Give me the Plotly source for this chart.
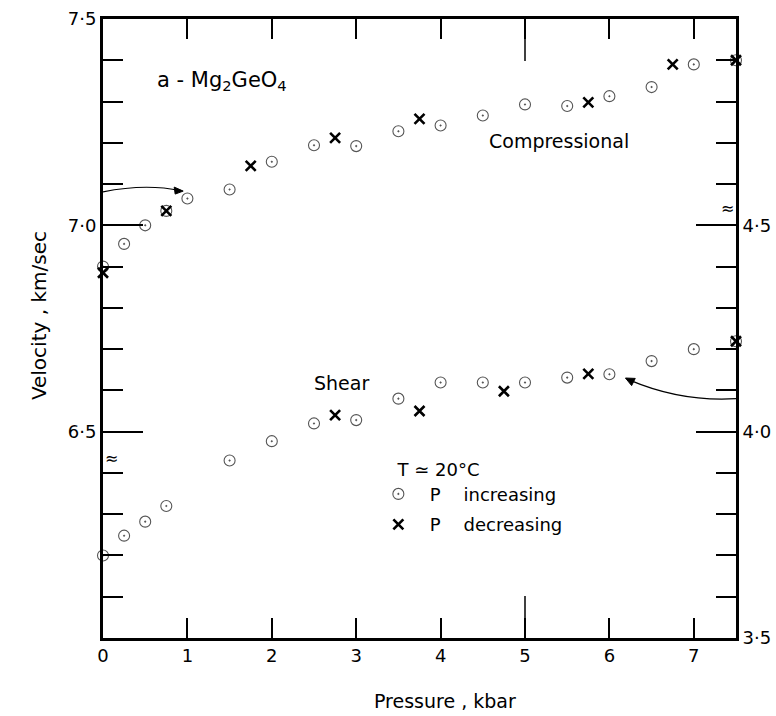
import plotly.graph_objects as go

# ---- data ----
# Compressional velocity (left axis, km/sec)
p_comp_inc = [0, 0.25, 0.5, 0.75, 1.0, 1.5, 2.0, 2.5, 3.0, 3.5, 4.0, 4.5, 5.0, 5.5, 6.0, 6.5, 7.0, 7.5]
v_comp_inc = [6.90, 6.955, 7.00, 7.035, 7.065, 7.087, 7.154, 7.194, 7.192, 7.228, 7.242, 7.266, 7.293, 7.289, 7.313, 7.335, 7.39, 7.40]
p_comp_dec = [0, 0.75, 1.75, 2.75, 3.75, 5.75, 6.75, 7.5]
v_comp_dec = [6.885, 7.035, 7.144, 7.212, 7.258, 7.298, 7.39, 7.40]

# Shear velocity (right axis, km/sec)
p_shear_inc = [0, 0.25, 0.5, 0.75, 1.5, 2.0, 2.5, 3.0, 3.5, 4.0, 4.5, 5.0, 5.5, 6.0, 6.5, 7.0, 7.5]
v_shear_inc = [3.70, 3.748, 3.782, 3.82, 3.93, 3.977, 4.02, 4.028, 4.08, 4.119, 4.119, 4.119, 4.131, 4.139, 4.171, 4.20, 4.219]
p_shear_dec = [2.75, 3.75, 4.75, 5.75, 7.5]
v_shear_dec = [4.04, 4.05, 4.098, 4.14, 4.219]

x_ticks = [0, 1, 2, 3, 4, 5, 6, 7]
x_ticktext = ["0", "1", "2", "3", "4", "5", "6", "7"]
yl_ticks = [6.5, 7.0, 7.5]
yl_ticktext = ["6·5", "7·0", "7·5"]
yr_ticks = [3.5, 4.0, 4.5]
yr_ticktext = ["3·5", "4·0", "4·5"]

FONT = "DejaVu Sans"
FS = 18
NB = "\u00a0"
circ = dict(symbol="circle-open-dot", size=11, color="#555", line=dict(width=1.1, color="#555"))
cross = dict(symbol="x-thin-open", size=10, color="black", line=dict(width=2.6, color="black"))

fig = go.Figure()
fig.add_trace(go.Scatter(x=p_comp_inc, y=v_comp_inc, mode="markers", marker=circ,
                         name=NB * 2 + "P" + NB * 4 + "increasing", legendgroup="inc", showlegend=True,
                         cliponaxis=False))
fig.add_trace(go.Scatter(x=p_comp_dec, y=v_comp_dec, mode="markers", marker=cross,
                         name=NB * 2 + "P" + NB * 4 + "decreasing", legendgroup="dec", showlegend=True,
                         cliponaxis=False))
fig.add_trace(go.Scatter(x=p_shear_inc, y=v_shear_inc, mode="markers", marker=circ, yaxis="y2",
                         legendgroup="inc", showlegend=False, cliponaxis=False))
fig.add_trace(go.Scatter(x=p_shear_dec, y=v_shear_dec, mode="markers", marker=cross, yaxis="y2",
                         legendgroup="dec", showlegend=False, cliponaxis=False))

fig.update_layout(
    width=776, height=716,
    margin=dict(l=103, r=40, t=19, b=78),
    paper_bgcolor="white", plot_bgcolor="white",
    font=dict(family=FONT, size=FS, color="black"),
    xaxis=dict(range=[0, 7.5], tickvals=x_ticks, ticktext=x_ticktext, ticks="inside", ticklen=20,
               tickwidth=1.5, tickcolor="black", showline=True, linewidth=2.5, linecolor="black",
               mirror="ticks", showgrid=False, zeroline=False, tickfont=dict(size=FS), automargin=False),
    yaxis=dict(range=[6.0, 7.5], tickvals=yl_ticks, ticktext=yl_ticktext, ticks="inside", ticklen=40,
               tickwidth=1.5, tickcolor="black", showline=True, linewidth=3, linecolor="black",
               showgrid=False, zeroline=False, tickfont=dict(size=FS), automargin=False,
               minor=dict(dtick=0.1, tick0=6.0, ticks="inside", ticklen=20, tickwidth=1.5, tickcolor="black")),
    yaxis2=dict(range=[3.5, 5.0], overlaying="y", side="right", tickvals=yr_ticks, ticktext=yr_ticktext,
                ticks="inside", ticklen=40, tickwidth=1.5, tickcolor="black", showline=True, linewidth=3,
                linecolor="black", showgrid=False, zeroline=False, tickfont=dict(size=FS), automargin=False,
                minor=dict(dtick=0.1, tick0=3.5, ticks="inside", ticklen=20, tickwidth=1.5, tickcolor="black")),
    legend=dict(title=dict(text=NB * 3 + "T" + NB + "\u2243" + NB + "20°C", font=dict(size=FS)),
                x=0.435, y=0.30, xanchor="left", yanchor="top", bgcolor="rgba(0,0,0,0)",
                font=dict(size=FS), tracegroupgap=4, itemwidth=30),
    showlegend=True,
)

# long tick at 5 kbar on bottom and top
for ya, y1 in [(0, 42), (1, -42)]:
    fig.add_shape(type="line", xref="x", yref="paper", x0=5, x1=5, ysizemode="pixel", yanchor=ya,
                  y0=0, y1=y1, line=dict(color="black", width=1.5))

# curved arrows with pixel-sized arrowheads
fig.add_shape(type="path", xref="x", yref="y", path="M 0,7.081 Q 0.5,7.102 0.92,7.084",
              line=dict(color="black", width=1.2))
fig.add_shape(type="path", xref="x", yref="y", xsizemode="pixel", ysizemode="pixel",
              xanchor=0.95, yanchor=7.083, path="M 0,0 L -9,4 L -8,-3 Z",
              fillcolor="black", line=dict(color="black", width=1))
fig.add_shape(type="path", xref="x", yref="y2", path="M 7.5,4.08 Q 6.85,4.072 6.24,4.125",
              line=dict(color="black", width=1.2))
fig.add_shape(type="path", xref="x", yref="y2", xsizemode="pixel", ysizemode="pixel",
              xanchor=6.19, yanchor=4.13, path="M 0,0 L 9.8,-0.4 L 6.2,-7.6 Z",
              fillcolor="black", line=dict(color="black", width=1))

# text labels
fig.add_annotation(x=0.62, y=7.35, xref="x", yref="y", text="a - Mg<sub>2</sub>GeO<sub>4</sub>",
                   showarrow=False, xanchor="left", font=dict(size=21))
fig.add_annotation(x=5.4, y=7.204, xref="x", yref="y", text="Compressional", showarrow=False,
                   font=dict(size=19))
fig.add_annotation(x=2.83, y=4.119, xref="x", yref="y2", text="Shear", showarrow=False,
                   font=dict(size=19))
fig.add_annotation(x=0.54, y=0, xref="paper", yref="paper", yanchor="top", yshift=-50,
                   text="Pressure , kbar", showarrow=False, font=dict(size=19))
fig.add_annotation(x=0, y=0.52, xref="paper", yref="paper", xshift=-78, textangle=-90,
                   text="Velocity , km/sec", showarrow=False, font=dict(size=20))

# axis break marks
fig.add_annotation(x=0, y=6.435, xref="paper", yref="y", text="≈", showarrow=False, font=dict(size=16))
fig.add_annotation(x=1, y=4.54, xref="paper", yref="y2", text="≈", showarrow=False, font=dict(size=16))

fig.write_html("out.html")
